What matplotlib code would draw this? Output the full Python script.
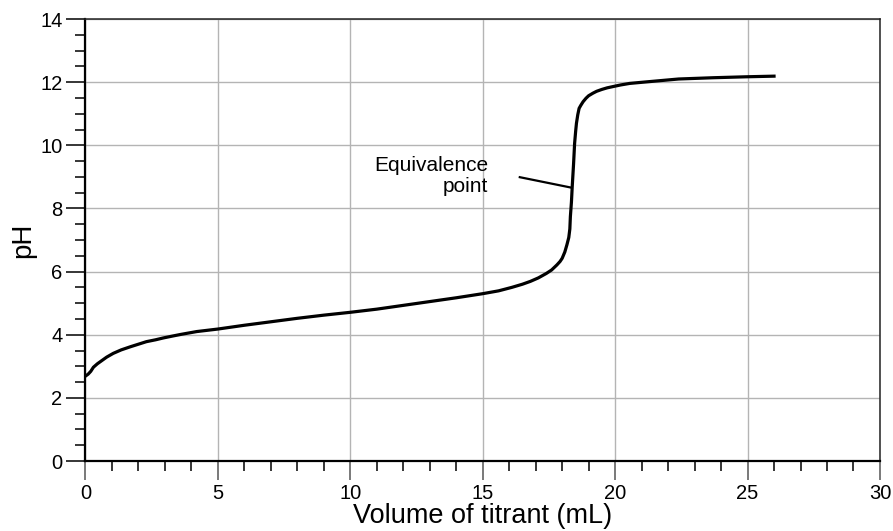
import matplotlib.pyplot as plt
from matplotlib.ticker import MultipleLocator

plt.rcParams["font.family"] = ["Liberation Sans", "DejaVu Sans"]

# titration curve: volume of titrant (mL) vs pH
volume = [0.0, 0.1, 0.2, 0.3, 0.45, 0.6, 0.8, 1.05, 1.35, 1.7, 2.0, 2.3,
          2.65, 2.95, 3.3, 3.6, 4.2, 5.0, 6.0, 7.0, 8.0, 9.0, 10.0, 11.0,
          12.0, 13.0, 14.0, 15.0, 15.6, 16.1, 16.5, 16.8, 17.1, 17.4, 17.6,
          17.8, 17.92, 18.0, 18.1, 18.18, 18.25, 18.29, 18.31, 18.35, 18.38,
          18.43, 18.47, 18.51, 18.54, 18.59, 18.64, 18.7, 18.79, 18.9, 19.0,
          19.16, 19.3, 19.5, 19.7, 19.92, 20.2, 20.55, 21.2, 22.4, 23.7,
          24.95, 26.0]
ph = [2.69, 2.75, 2.84, 2.97, 3.08, 3.17, 3.29, 3.41, 3.52, 3.62, 3.7, 3.78,
      3.84, 3.9, 3.96, 4.01, 4.1, 4.18, 4.3, 4.41, 4.52, 4.62, 4.71, 4.81,
      4.93, 5.05, 5.17, 5.3, 5.39, 5.5, 5.6, 5.69, 5.8, 5.94, 6.05, 6.21,
      6.32, 6.42, 6.62, 6.85, 7.08, 7.35, 7.74, 8.2, 8.69, 9.4, 10.06,
      10.45, 10.7, 10.97, 11.17, 11.26, 11.38, 11.49, 11.57, 11.65, 11.71,
      11.77, 11.82, 11.86, 11.91, 11.96, 12.01, 12.1, 12.14, 12.17, 12.19]

# leader line from the label to the steep part of the curve
leader_start = (16.4, 8.99)
leader_end = (18.34, 8.66)

fig = plt.figure(figsize=(8.93, 5.31), dpi=100)
ax = fig.add_axes([0.0957, 0.1318, 0.8897, 0.8324])

ax.plot(volume, ph, color="black", linewidth=2.3, solid_joinstyle="round",
        zorder=3)

ax.set_xlim(0, 30)
ax.set_ylim(0, 14)
ax.xaxis.set_major_locator(MultipleLocator(5))
ax.xaxis.set_minor_locator(MultipleLocator(1))
ax.yaxis.set_major_locator(MultipleLocator(2))
ax.yaxis.set_minor_locator(MultipleLocator(0.5))
ax.grid(True, which="major", color="#b4b4b4", linewidth=1.0)
ax.set_axisbelow(True)

ax.tick_params(which="major", length=13.5, width=1.1, labelsize=14.5,
               direction="out")
ax.tick_params(which="minor", length=7.5, width=1.1, direction="out")
ax.tick_params(axis="x", which="major", color="#555555", pad=3)
ax.tick_params(axis="y", pad=3)

for side in ["left", "bottom"]:
    ax.spines[side].set_linewidth(1.6)
for side in ["top", "right"]:
    ax.spines[side].set_linewidth(1.1)
    ax.spines[side].set_color("#222222")

ax.set_xlabel("Volume of titrant (mL)", fontsize=19.5, labelpad=0)
ax.set_ylabel("pH", fontsize=20, labelpad=3)

ax.text(15.2, 9.03, "Equivalence\npoint", fontsize=15, ha="right",
        va="center", multialignment="right", linespacing=1.15)
ax.plot([leader_start[0], leader_end[0]], [leader_start[1], leader_end[1]],
        color="black", linewidth=1.6, zorder=3)

fig.savefig("out.png", dpi=100)
